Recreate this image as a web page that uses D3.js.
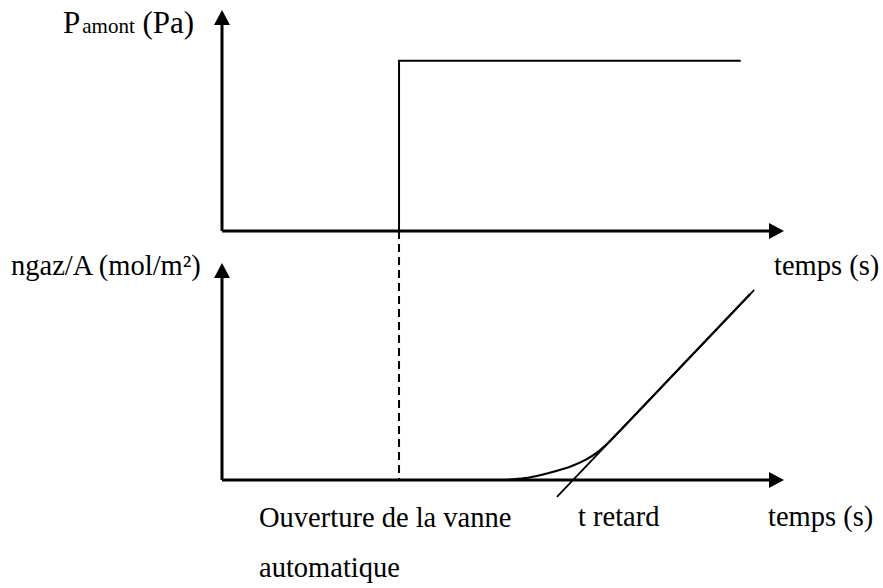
<!DOCTYPE html>
<html>
<head>
<meta charset="utf-8">
<script src="https://cdn.jsdelivr.net/npm/d3@7"></script>
</head>
<body style="margin:0">
<svg id="chart" width="883" height="588" style="font-family: 'Liberation Serif'"></svg>
<script>
const tOpen = 31.5;
const pressure = [[0, 0], [31.5, 0], [31.5, 77], [92.3, 77]];
const nGaz = [
  [50.71, 0], [53.91, 0.83], [56.58, 2.21], [59.61, 4.24], [62.46, 6.68],
  [64.59, 9.17], [66.73, 12.58], [68.15, 15.71], [69.40, 18.94],
  [76.16, 37.19], [85.05, 61.43], [93.95, 85.62]
];
const tangent = [[59.6, -7.8], [94.7, 87.6]];

const fontFamily = '"Liberation Serif"';

// warm up the font so it is ready before the snapshot
const ctx = document.createElement('canvas').getContext('2d');
ctx.font = `30px ${fontFamily}`;
ctx.measureText('temps (s) Ouverture');

const svg = d3.select('#chart');

const x = d3.scaleLinear().domain([0, 100]).range([222, 784]);
const yTop = d3.scaleLinear().domain([0, 100]).range([231, 10]);
const yBot = d3.scaleLinear().domain([0, 100]).range([480, 263]);

const axisW = 3;
const head = { len: 15, half: 8 };

// draw an axis with a filled arrow head
function arrow(x1, y1, x2, y2) {
  const ang = Math.atan2(y2 - y1, x2 - x1);
  const bx = x2 - Math.cos(ang) * head.len;
  const by = y2 - Math.sin(ang) * head.len;
  svg.append('line')
    .attr('x1', x1).attr('y1', y1)
    .attr('x2', bx + Math.cos(ang) * 2).attr('y2', by + Math.sin(ang) * 2)
    .attr('stroke', '#000').attr('stroke-width', axisW);
  const px = -Math.sin(ang) * head.half, py = Math.cos(ang) * head.half;
  svg.append('path')
    .attr('d', `M${x2},${y2}L${bx + px},${by + py}L${bx - px},${by - py}Z`)
    .attr('fill', '#000');
}

// top panel axes
arrow(x(0), yTop(0), x(0), yTop(100));
arrow(x(0), yTop(0), x(100), yTop(0));
// bottom panel axes
arrow(x(0), yBot(0), x(0), yBot(100));
arrow(x(0), yBot(0), x(100), yBot(0));

// pressure step
svg.append('path')
  .datum(pressure)
  .attr('d', d3.line().x(d => x(d[0])).y(d => yTop(d[1])))
  .attr('fill', 'none').attr('stroke', '#000').attr('stroke-width', 2);

// dashed line at valve opening
svg.append('line')
  .attr('x1', x(tOpen)).attr('x2', x(tOpen))
  .attr('y1', yTop(0)).attr('y2', yBot(0))
  .attr('stroke', '#000').attr('stroke-width', 2)
  .attr('stroke-dasharray', '8,5');

// accumulated gas curve
svg.append('path')
  .datum(nGaz)
  .attr('d', d3.line().x(d => x(d[0])).y(d => yBot(d[1])).curve(d3.curveMonotoneX))
  .attr('fill', 'none').attr('stroke', '#000').attr('stroke-width', 2.2);

// asymptote
svg.append('path')
  .datum(tangent)
  .attr('d', d3.line().x(d => x(d[0])).y(d => yBot(d[1])))
  .attr('fill', 'none').attr('stroke', '#000').attr('stroke-width', 1.8);

// labels
function label(px, py, txt) {
  return svg.append('text').attr('x', px).attr('y', py)
    .style('font-family', fontFamily).attr('font-size', 28.5)
    .text(txt);
}

const pLab = svg.append('text').attr('x', 63).attr('y', 33)
  .style('font-family', fontFamily).attr('font-size', 31);
pLab.append('tspan').text('P');
pLab.append('tspan').attr('dx', 2).attr('font-size', 21).text('amont');
pLab.append('tspan').text(' (Pa)');

label(11, 275, 'ngaz/A (mol/m²)');
label(774, 275, 'temps (s)');
label(768, 526, 'temps (s)');
label(578, 526, 't retard');
label(259, 527, 'Ouverture de la vanne');
label(259, 577, 'automatique');
</script>
</body>
</html>
